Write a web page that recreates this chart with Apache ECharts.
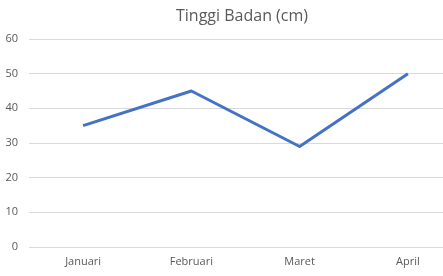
<!DOCTYPE html>
<html><head><meta charset="utf-8">
<script src="https://cdn.jsdelivr.net/npm/echarts@6/dist/echarts.min.js"></script>
<style>html,body{margin:0;padding:0;background:#fff}#c{width:443px;height:276px}</style>
</head><body><div id="c"></div>
<script>
const categories = ['Januari', 'Februari', 'Maret', 'April'];
const heights = [35, 45, 29, 50];
const yTicks = [0, 10, 20, 30, 40, 50, 60];

const chart = echarts.init(document.getElementById('c'), null, {renderer: 'canvas'});
chart.setOption({
  animation: false,
  title: {
    text: 'Tinggi Badan (cm)',
    left: 237, top: 3, textAlign: 'center',
    textStyle: {fontFamily: 'Open Sans', fontSize: 16, fontWeight: 'normal', color: '#595959'}
  },
  grid: {left: 29, right: -19, top: 39, bottom: 29, containLabel: false, outerBoundsMode: 'none'},
  xAxis: {
    type: 'category', data: categories, boundaryGap: true,
    axisLine: {show: false}, axisTick: {show: false},
    axisLabel: {color: '#595959', fontSize: 11, fontFamily: 'Open Sans', margin: 9}
  },
  yAxis: {
    type: 'value', min: yTicks[0], max: yTicks[yTicks.length - 1], interval: 10,
    axisLine: {show: false}, axisTick: {show: false},
    splitLine: {lineStyle: {color: '#d9d9d9', width: 1}},
    axisLabel: {color: '#595959', fontSize: 11, fontFamily: 'Open Sans', margin: 11}
  },
  series: [{
    type: 'line', data: heights, symbol: 'none',
    lineStyle: {color: '#4472C4', width: 3, join: 'round'}
  }]
});
</script></body></html>
